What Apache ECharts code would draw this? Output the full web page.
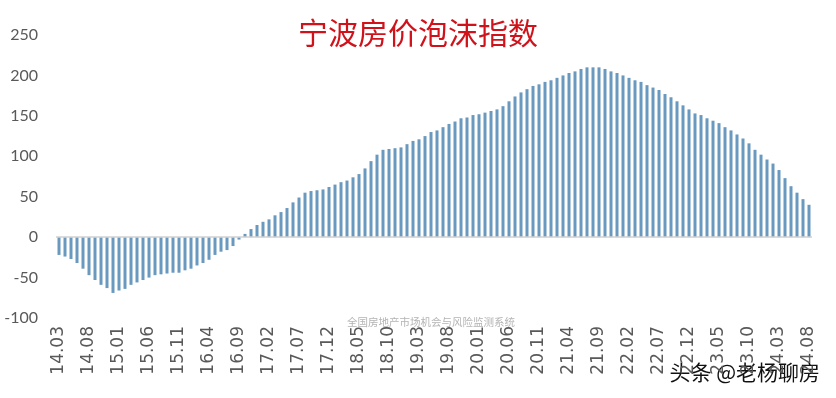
<!DOCTYPE html>
<html>
<head>
<meta charset="utf-8">
<title>宁波房价泡沫指数</title>
<script src="https://cdn.jsdelivr.net/npm/echarts@6/dist/echarts.min.js"></script>
<style>
  html, body { margin: 0; padding: 0; background: #fff; }
  #main { width: 836px; height: 398px; }
</style>
</head>
<body>
<div id="main"></div>
<script>
// 月份 14.03 ~ 24.08
var startYear = 2014
var startMonth = 3
var monthCount = 126

// 泡沫指数
var drop2014 = [-22, -24, -27, -32, -39, -47, -53, -59, -63, -69, -66, -64, -59, -56, -53, -50,
  -47, -46, -45, -44, -44, -41, -39, -35, -32, -28, -22, -18, -16, -11, -3]
var rise2016 = [4, 10, 15, 19, 22, 27, 31, 36, 43, 49, 55, 57, 58, 59, 62, 65, 68, 70, 74, 78, 85, 94]
var rise2018 = [102, 108, 109, 110, 111, 115, 119, 121, 125, 130, 132, 136, 140, 143, 147, 148,
  151, 152, 154, 156, 158, 162, 168, 174, 179, 183, 187]
var peak2021 = [189, 192, 194, 197, 200, 203, 205, 208, 210, 210, 210]
var fall2021 = [208, 205, 203, 200, 197, 194, 192, 188, 185, 182, 177, 173, 168, 163, 158, 153,
  151, 147, 144, 141, 136, 132, 127, 122, 116, 108, 102, 96, 91, 83, 73, 63, 55, 47, 40]

var bubbleIndex = drop2014.concat(rise2016, rise2018, peak2021, fall2021)

var months = []
for (var i = 0; i < monthCount; i++) {
  var y = startYear + Math.floor((startMonth - 1 + i) / 12)
  var m = (startMonth - 1 + i) % 12 + 1
  months.push(String(y).slice(2) + '.' + (m < 10 ? '0' + m : m))
}

var chart = echarts.init(document.getElementById('main'))
chart.setOption({
  animation: false,
  title: {
    text: '宁波房价泡沫指数',
    left: 'center',
    top: 13,
    textStyle: {
      color: '#d0121b',
      fontFamily: 'Noto Sans CJK SC',
      fontSize: 30,
      fontWeight: 'normal'
    }
  },
  grid: {
    left: 56,
    right: 24,
    top: 35,
    bottom: 80
  },
  xAxis: {
    type: 'category',
    data: months,
    position: 'bottom',
    axisLine: { show: false },
    axisTick: { show: false },
    axisLabel: {
      interval: 4,
      rotate: 90,
      margin: 8,
      color: '#595959',
      fontFamily: 'DejaVu Sans',
      fontSize: 17
    }
  },
  yAxis: {
    type: 'value',
    min: -100,
    max: 250,
    interval: 50,
    splitLine: { show: false },
    axisLine: { show: false },
    axisTick: { show: false },
    axisLabel: {
      margin: 18,
      color: '#595959',
      fontFamily: 'Lato',
      fontSize: 16
    }
  },
  series: [{
    name: '泡沫指数',
    type: 'bar',
    data: bubbleIndex,
    barWidth: 3,
    itemStyle: { color: '#6a99bf' },
    // 零轴线
    markLine: {
      silent: true,
      symbol: 'none',
      label: { show: false },
      lineStyle: { color: '#d0d0d0', type: 'solid', width: 1.5 },
      data: [{ yAxis: 0 }]
    }
  }],
  graphic: [{
    type: 'text',
    left: 347,
    top: 317,
    style: {
      text: '全国房地产市场机会与风险监测系统',
      fill: '#b4b4b4',
      fontFamily: 'Noto Sans CJK SC',
      fontSize: 10.5
    }
  }, {
    type: 'text',
    left: 668,
    top: 360,
    style: {
      text: '头条 @老杨聊房',
      fill: '#111',
      stroke: '#fff',
      lineWidth: 3,
      fontFamily: 'Noto Sans CJK SC',
      fontSize: 21
    }
  }]
})
</script>
</body>
</html>
